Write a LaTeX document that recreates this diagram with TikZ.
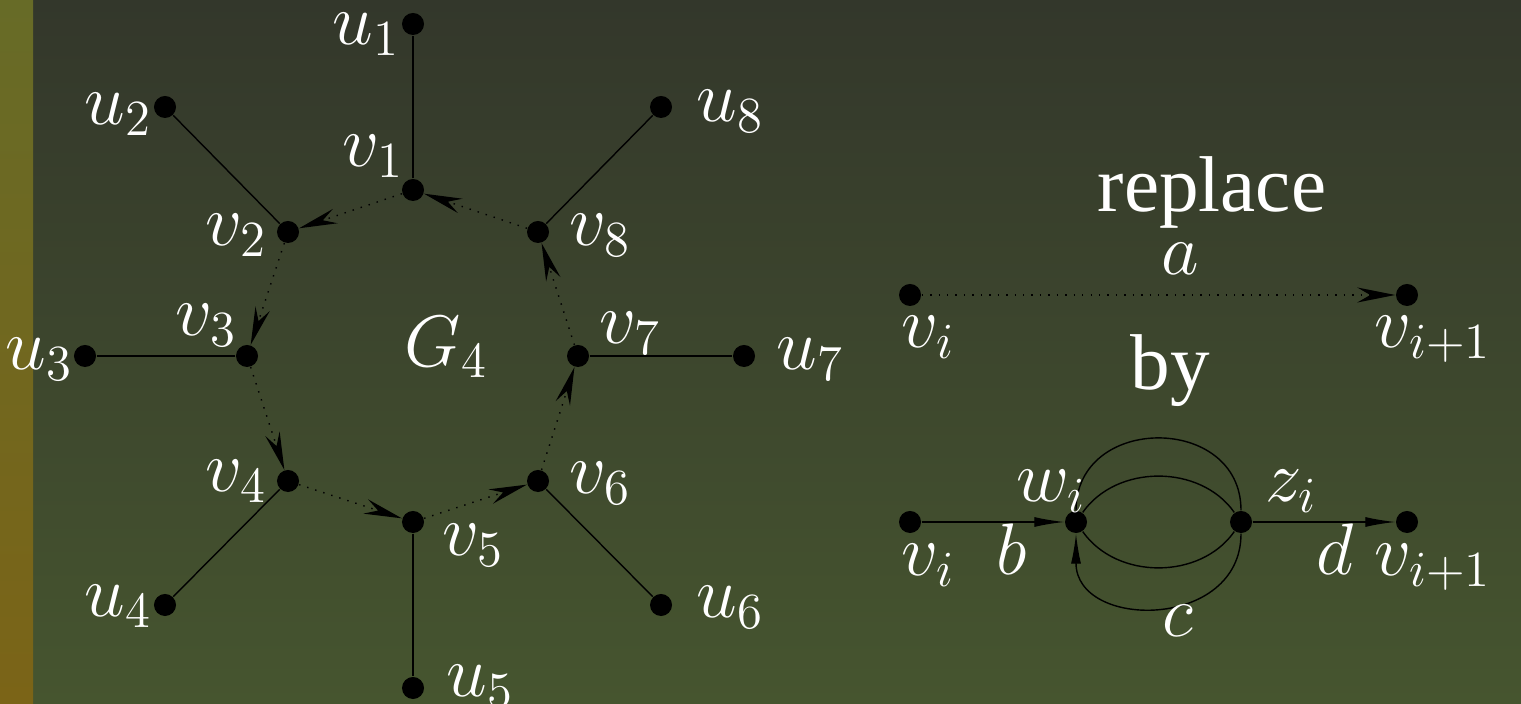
\documentclass[tikz,border=0pt]{standalone}
\usepackage{fontspec}
\newfontfamily\wordfont{Liberation Serif}
\usetikzlibrary{arrows.meta}

\definecolor{bgtop}{RGB}{51,55,43}
\definecolor{bgbot}{RGB}{70,85,47}
\definecolor{striptop}{RGB}{103,107,39}
\definecolor{stripbot}{RGB}{123,100,23}

\begin{document}
\begin{tikzpicture}[
    x=0.01cm, y=-0.01cm,
    vtx/.style={circle, fill=black, inner sep=0pt, minimum size=0.22cm},
    lbl/.style={text=white, font=\fontsize{22}{26}\selectfont, inner sep=0pt, anchor=base west},
    word/.style={text=white, font=\wordfont\fontsize{22.5}{27}\selectfont, inner sep=0pt, anchor=base west},
    cyc/.style={dotted, -{Stealth[length=0.38cm, width=0.15cm, inset=0.13cm]}},
    solidarr/.style={-{Latex[length=0.3cm, width=0.1cm]}}
]
    % background
    \shade[top color=bgtop, bottom color=bgbot] (0,0) rectangle (1521,704);
    \shade[top color=striptop, bottom color=stripbot] (0,0) rectangle (33,704);
    \useasboundingbox (0,0) rectangle (1521,704);

    % graph G_4
    \node[vtx] (v1) at (413,190) {};
    \node[vtx] (v2) at (288,232) {};
    \node[vtx] (v3) at (247,356) {};
    \node[vtx] (v4) at (288,481) {};
    \node[vtx] (v5) at (413,522) {};
    \node[vtx] (v6) at (538,481) {};
    \node[vtx] (v7) at (578,356) {};
    \node[vtx] (v8) at (538,232) {};

    \node[vtx] (u1) at (413,24) {};
    \node[vtx] (u2) at (165,107) {};
    \node[vtx] (u3) at (85,356) {};
    \node[vtx] (u4) at (165,605) {};
    \node[vtx] (u5) at (413,688) {};
    \node[vtx] (u6) at (661,605) {};
    \node[vtx] (u7) at (744,356) {};
    \node[vtx] (u8) at (661,107) {};

    \foreach \i in {1,...,8}
        \draw (v\i) -- (u\i);
    \foreach \a/\b in {1/2,2/3,3/4,4/5,5/6,6/7,7/8,8/1}
        \draw[cyc] (v\a) -- (v\b);

    \node[lbl] (lu1) at (332,45) {$u_1$};
    \node[lbl] (lu2) at (84,125) {$u_2$};
    \node[lbl] (lu3) at (5,370) {$u_3$};
    \node[lbl] (lu4) at (84,617) {$u_4$};
    \node[lbl] (lu5) at (446,697) {$u_5$};
    \node[lbl] (lu6) at (696,618) {$u_6$};
    \node[lbl] (lu7) at (776,370) {$u_7$};
    \node[lbl] (lu8) at (696,122) {$u_8$};

    \node[lbl] (lv1) at (342,167) {$v_1$};
    \node[lbl] (lv2) at (205,246) {$v_2$};
    \node[lbl] (lv3) at (175,336) {$v_3$};
    \node[lbl] (lv4) at (205,492) {$v_4$};
    \node[lbl] (lv5) at (442,556) {$v_5$};
    \node[lbl] (lv6) at (569,494) {$v_6$};
    \node[lbl] (lv7) at (599,344) {$v_7$};
    \node[lbl] (lv8) at (569,246) {$v_8$};

    \node[lbl] (g4) at (404,367) {$G_4$};

    % replace a by b, c, d
    \node[word] (replace) at (1097,212) {replace};
    \node[vtx] (p) at (910,295) {};
    \node[vtx] (q) at (1407,295) {};
    \draw[cyc] (p) -- (q);
    \node[lbl] (la) at (1161,275) {$a$};
    \node[lbl] (lp) at (901,348) {$v_i$};
    \node[lbl] (lq) at (1374,348) {$v_{i+1}$};

    \node[word] (by) at (1130,390) {by};

    \node[vtx] (pb) at (910,522) {};
    \node[vtx] (w) at (1076,522) {};
    \node[vtx] (z) at (1241,522) {};
    \node[vtx] (qb) at (1407,522) {};
    \draw[solidarr] (pb) -- (w);
    \draw[solidarr] (z) -- (qb);
    \draw (w) to[out=90, in=90, looseness=1.5] (z);
    \draw (w) to[bend left=55] (z);
    \draw (w) to[bend right=55] (z);
    \draw[solidarr] (z) to[out=-90, in=-90, looseness=1.5] (w);

    \node[lbl] (lw) at (1016,502) {$w_i$};
    \node[lbl] (lz) at (1265,502) {$z_i$};
    \node[lbl] (lb) at (996,575) {$b$};
    \node[lbl] (lc) at (1162,637) {$c$};
    \node[lbl] (ld) at (1316,575) {$d$};
    \node[lbl] (lpb) at (901,576) {$v_i$};
    \node[lbl] (lqb) at (1374,576) {$v_{i+1}$};
\end{tikzpicture}
\end{document}
